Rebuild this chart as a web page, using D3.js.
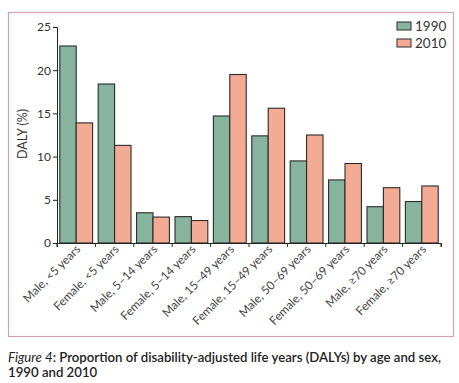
<!DOCTYPE html>
<html><head><meta charset="utf-8">
<script src="https://cdn.jsdelivr.net/npm/d3@7"></script>
<style>body{margin:0;background:#fff;} svg{display:block;}</style>
</head><body>
<svg id="c" width="459" height="383"></svg>
<script>
const categories = ["Male, <5 years","Female, <5 years","Male, 5–14 years","Female, 5–14 years","Male, 15–49 years","Female, 15–49 years","Male, 50–69 years","Female, 50–69 years","Male, ≥70 years","Female, ≥70 years"];
const values1990 = [22.8, 18.4, 3.5, 3.05, 14.7, 12.4, 9.5, 7.3, 4.2, 4.8];
const values2010 = [13.9, 11.3, 3.0, 2.6, 19.5, 15.6, 12.5, 9.2, 6.4, 6.6];
const seriesNames = ["1990","2010"];
const yTicks = [0,5,10,15,20,25];
const colors = ["#86b49e","#f4ab94"];

const svg = d3.select("#c");
svg.append("rect").attr("x",8.5).attr("y",12.5).attr("width",445).attr("height",324)
  .attr("fill","#fff").attr("stroke","#d2a2b4").attr("stroke-width",1.2);

const x0 = d3.scaleBand().domain(categories).range([57,441]).paddingInner(0).paddingOuter(0);
const x1 = d3.scaleBand().domain(seriesNames).range([0,x0.bandwidth()]).paddingInner(0).paddingOuter(0.17);
const y = d3.scaleLinear().domain([0,25]).range([243,27]);

const data = categories.map((c,i)=>({c, v:[values1990[i], values2010[i]]}));
const g = svg.append("g");
data.forEach(d=>{
  seriesNames.forEach((s,j)=>{
    g.append("rect").attr("x",x0(d.c)+x1(s)).attr("y",y(d.v[j]))
      .attr("width",x1.bandwidth()).attr("height",y(0)-y(d.v[j]))
      .attr("fill",colors[j]).attr("stroke","#2b2b2b").attr("stroke-width",1.1);
  });
});

// y axis
const ya = svg.append("g").attr("transform","translate(57,0)")
  .call(d3.axisLeft(y).tickValues(yTicks).tickSize(4).tickPadding(2));
ya.select(".domain").attr("stroke","#222");
ya.selectAll("line").attr("stroke","#222");
ya.selectAll("text").attr("font-family","Lato, 'Open Sans', sans-serif").attr("font-size",12).attr("fill","#333");

// x axis
const xa = svg.append("g").attr("transform","translate(0,243)")
  .call(d3.axisBottom(x0).tickSize(4).tickSizeOuter(4).tickFormat(""));
xa.select(".domain").attr("stroke","#222");
xa.selectAll(".tick").remove();
const bounds = [57].concat(categories.map(c=>x0(c)+x0.bandwidth()));
bounds.forEach(b=>{
  xa.append("line").attr("x1",b).attr("x2",b).attr("y1",0).attr("y2",4).attr("stroke","#222");
});
categories.forEach(c=>{
  svg.append("text").attr("transform",`translate(${x0(c)+x0.bandwidth()/2+5},250) rotate(-45)`)
    .attr("text-anchor","end").attr("font-family","Lato, 'Open Sans', sans-serif")
    .attr("font-size",11.8).attr("fill","#444").text(c);
});

// y label
svg.append("text").attr("transform","translate(27,134) rotate(-90)").attr("text-anchor","middle")
  .attr("font-family","Lato, 'Open Sans', sans-serif").attr("font-size",12.5).attr("fill","#333").text("DALY (%)");

// legend
seriesNames.forEach((s,j)=>{
  svg.append("rect").attr("x",397).attr("y",22+j*17).attr("width",14).attr("height",8)
    .attr("fill",colors[j]).attr("stroke","#2b2b2b").attr("stroke-width",1);
  svg.append("text").attr("x",415).attr("y",31+j*17).attr("font-family","Lato, 'Open Sans', sans-serif")
    .attr("font-size",13.5).attr("fill","#333").text(s);
});

// caption
const cap = svg.append("text").attr("x",8).attr("y",362).attr("font-family","Lato, 'Open Sans', sans-serif")
  .attr("font-size",13.2).attr("font-weight",600).attr("fill","#222");
cap.append("tspan").attr("font-style","italic").attr("font-weight",400).text("Figure 4");
cap.append("tspan").text(": Proportion of disability-adjusted life years (DALYs) by age and sex,");
svg.append("text").attr("x",8).attr("y",377).attr("font-family","Lato, 'Open Sans', sans-serif")
  .attr("font-size",13.2).attr("font-weight",600).attr("fill","#222").text("1990 and 2010");
</script>
</body></html>
